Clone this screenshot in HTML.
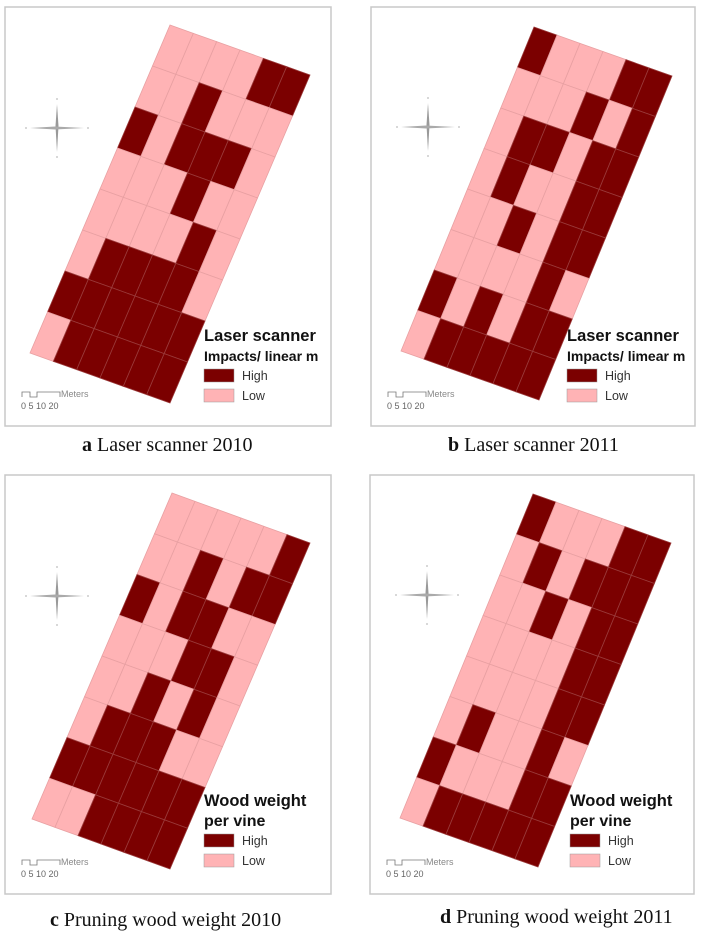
<!DOCTYPE html>
<html><head><meta charset="utf-8">
<style>
html,body{margin:0;padding:0;background:#fff;}
svg{display:block;}
.cap{font-family:"Liberation Serif",serif;font-size:20px;fill:#111;}
.lt{font-family:"Liberation Sans",sans-serif;font-weight:bold;fill:#111;}
.ll{font-family:"Liberation Sans",sans-serif;font-size:12.5px;fill:#333;}
</style></head>
<body>
<svg id="fig" width="701" height="935" viewBox="0 0 701 935" xmlns="http://www.w3.org/2000/svg"></svg>
<script>
// 1 = High, 0 = Low ; 8 rows x 6 columns per panel
const gridA = [[0,0,0,0,1,1],[0,0,1,0,0,0],[1,0,1,1,1,0],[0,0,0,1,0,0],[0,0,0,0,1,0],[0,1,1,1,1,0],[1,1,1,1,1,1],[0,1,1,1,1,1]];
const gridB = [[1,0,0,0,1,1],[0,0,0,1,0,1],[0,1,1,0,1,1],[0,1,0,0,1,1],[0,0,1,0,1,1],[0,0,0,0,1,0],[1,0,1,0,1,1],[0,1,1,1,1,1]];
const gridC = [[0,0,0,0,0,1],[0,0,1,0,1,1],[1,0,1,1,0,0],[0,0,0,1,1,0],[0,0,1,0,1,0],[0,1,1,1,0,0],[1,1,1,1,1,1],[0,0,1,1,1,1]];
const gridD = [[1,0,0,0,1,1],[0,1,0,1,1,1],[0,0,1,0,1,1],[0,0,0,0,1,1],[0,0,0,0,1,1],[0,1,0,0,1,0],[1,0,0,0,1,1],[0,1,1,1,1,1]];
const captionLetters = ["a","b","c","d"];
const captionTexts = ["Laser scanner 2010","Laser scanner 2011","Pruning wood weight 2010","Pruning wood weight 2011"];
const legendTitles = [["Laser scanner","Impacts/ linear m"],["Laser scanner","Impacts/ limear m"],["Wood weight","per vine"],["Wood weight","per vine"]];
const legendLabels = ["High","Low"];

const NS="http://www.w3.org/2000/svg";
const svg=document.getElementById('fig');
function mk(tag,attrs,parent){const e=document.createElementNS(NS,tag);for(const k in attrs)e.setAttribute(k,attrs[k]);(parent||svg).appendChild(e);return e;}
const DARK="#7b0000", PINK="#ffb3b5";
const panels=[
 {g:gridA,fx:5,fy:7,tl:[165,18],W:[140,50],L:[-140,328],cx:82,cy:445,comp:[52,121],lx:199},
 {g:gridB,fx:371,fy:7,tl:[163,20],W:[138,49],L:[-133,324],cx:448,cy:445,comp:[57,120],lx:196},
 {g:gridC,fx:5,fy:475,tl:[167,18],W:[138,50],L:[-140,326],cx:50,cy:920,comp:[52,121],lx:199},
 {g:gridD,fx:370,fy:475,tl:[163,19],W:[138,49],L:[-133,324],cx:440,cy:917,comp:[57,120],lx:200}
];
panels.forEach((p,i)=>{
  const g=mk('g',{transform:`translate(${p.fx},${p.fy})`});
  
  
  const fr=mk('rect',{x:0,y:0,width:i%2?324:326,height:419,fill:'#fff',stroke:'#c8c8c8','stroke-width':1.5},g);
  
  
  const R=p.g.length,C=p.g[0].length;
  const pt=(r,c)=>[p.tl[0]+c/C*p.W[0]+r/R*p.L[0], p.tl[1]+c/C*p.W[1]+r/R*p.L[1]];
  for(let r=0;r<R;r++)for(let c=0;c<C;c++){
    const a=pt(r,c),b=pt(r,c+1),d=pt(r+1,c+1),e=pt(r+1,c);
    const poly=mk('polygon',{points:[a,b,d,e].map(q=>q.join(',')).join(' '),fill:p.g[r][c]?DARK:PINK,stroke:p.g[r][c]?'#9a3a3a':'#e8a0a2','stroke-width':0.8},g);
    
    
  }
  // compass
  const cg=mk('g',{transform:`translate(${p.comp[0]},${p.comp[1]})`},g);
  
  
  mk('polygon',{points:'0,-24 1.5,-2 0,24 -1.5,-2',fill:'#999'},cg);
  mk('polygon',{points:'-27,0 -2,-1.5 27,0 -2,1.5',fill:'#aaa'},cg);
  [[0,-29],[0,29],[-31,0],[31,0]].forEach(q=>mk('circle',{cx:q[0],cy:q[1],r:1,fill:'#ccc'},cg));
  // legend
  const lx=p.lx, ly=i<2?334:331;
  const t1=mk('text',{x:lx,y:ly,'font-size':16.5,class:'lt'},g);t1.textContent=legendTitles[i][0];
  
  
  const t2=mk('text',{x:lx,y:ly+20,'font-size':i<2?14:16,class:'lt'},g);t2.textContent=legendTitles[i][1];
  
  
  legendLabels.forEach((lab,k)=>{
    const sw=mk('rect',{x:lx,y:ly+28+k*20,width:30,height:13,fill:k?PINK:DARK,stroke:'#999','stroke-width':0.5},g);
    
    
    const tt=mk('text',{x:lx+38,y:ly+39+k*20,class:'ll'},g);tt.textContent=lab;
    
    
  });
  // scale bar
  const sb=mk('g',{transform:'translate(17,385)'},g);
  
  
  mk('path',{d:'M0,5 V0 H8 V5 H15 V0 H38 V5',fill:'none',stroke:'#777','stroke-width':0.8},sb);
  const mt=mk('text',{x:39,y:5,'font-size':9,fill:'#888','font-family':'Liberation Sans, sans-serif'},sb);mt.textContent='Meters';
  const nt=mk('text',{x:-1,y:17,'font-size':9,fill:'#666','font-family':'Liberation Sans, sans-serif'},sb);nt.textContent='0  5 10   20';
  // caption
  const cap=mk('text',{x:p.cx,y:p.cy+6,class:'cap'});
  
  
  const b=mk('tspan',{'font-weight':'bold'},cap);b.textContent=captionLetters[i]+'  ';
  const s=mk('tspan',{},cap);s.textContent=captionTexts[i];
});
</script>
</body></html>
